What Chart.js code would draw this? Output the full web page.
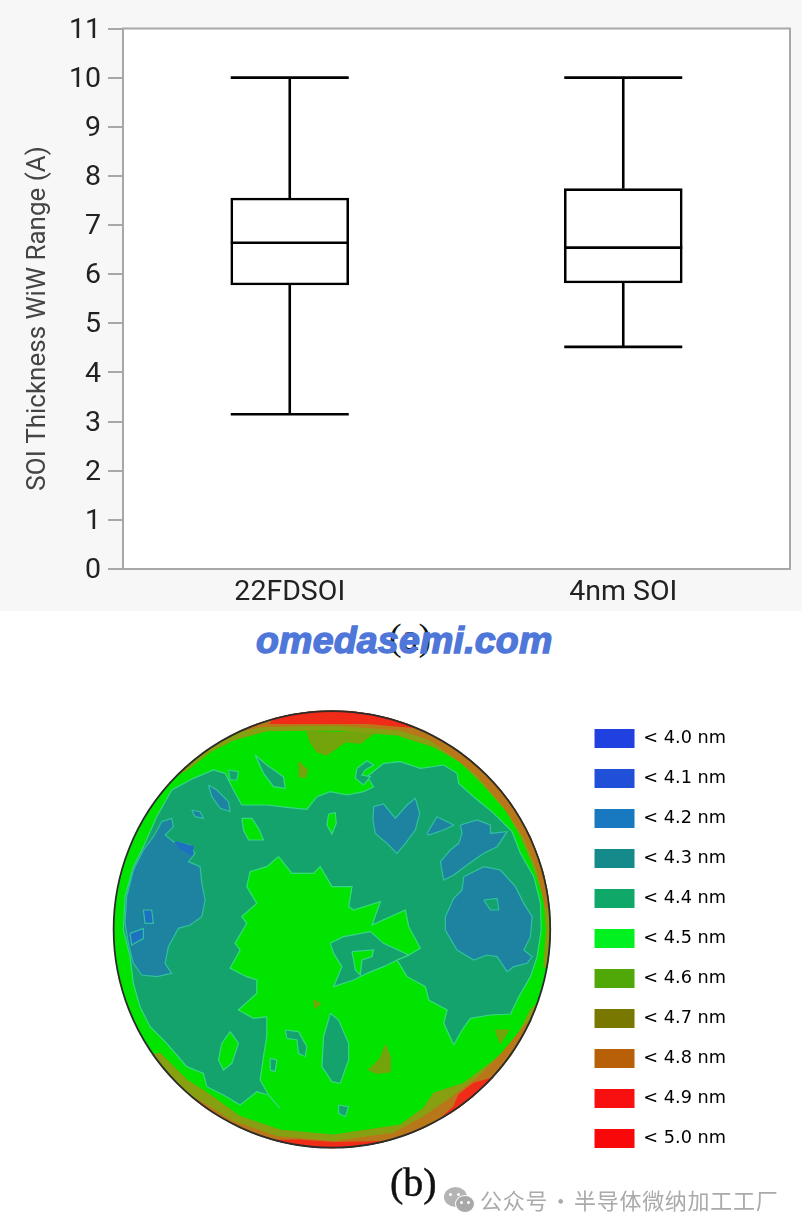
<!DOCTYPE html>
<html>
<head>
<meta charset="utf-8">
<script src="https://cdn.jsdelivr.net/npm/chart.js@4"></script>
<style>
  html, body { margin: 0; padding: 0; background: #fff; }
  #page { position: relative; width: 802px; height: 1231px; overflow: hidden; }
  #panel { position: absolute; left: 0; top: 0; width: 802px; height: 611px; background: #f7f7f7; }
  canvas { position: absolute; }
  #boxChart { left: 0; top: 0; }
  #mapChart { left: 100px; top: 708px; }
  .txt { position: absolute; line-height: 1; white-space: nowrap; }
  #capA { left: 389px; top: 618px; font: 38px/1 "Liberation Serif", serif; color: #111; }
  #site { left: 256px; top: 622px; font: italic bold 37.5px/1 "Liberation Sans", sans-serif; color: #4f76d9; -webkit-text-stroke: 1.4px #4f76d9; letter-spacing: 0.2px; }
  #capB { left: 390px; top: 1163px; font: 40px/1 "Liberation Serif", serif; color: #111; -webkit-text-stroke: 0.5px #111; }
  #mark { left: 480px; top: 1188px; font: 22px/1 "Noto Sans CJK SC", sans-serif; color: #aaa; letter-spacing: 0.7px; word-spacing: -4px; }
  .bub { position: absolute; background: #b4b4b4; border-radius: 50%; }
  .bub.front { background: #a8a8a8; border: 1px solid #fff; }
  .eye { position: absolute; width: 3px; height: 3px; border-radius: 50%; background: #fff; }
</style>
</head>
<body>
<div id="page">
  <div id="panel"></div>
  <canvas id="boxChart" width="802" height="611"></canvas>
  <canvas id="mapChart" width="636" height="480"></canvas>
  <div class="txt" id="capA">(a)</div>
  <div class="txt" id="site">omedasemi.com</div>
  <div class="txt" id="capB">(b)</div>
  <div class="bub" style="left:444px;top:1187px;width:23px;height:20px"></div>
  <div class="bub front" style="left:455px;top:1195px;width:18px;height:16px"></div>
  <div class="eye" style="left:449px;top:1193px"></div>
  <div class="eye" style="left:457px;top:1193px"></div>
  <div class="eye" style="left:460px;top:1201px"></div>
  <div class="eye" style="left:467px;top:1201px"></div>
  <div class="txt" id="mark">公众号 · 半导体微纳加工工厂</div>
</div>
<script>
// (a) box plot values
const categories = ['22FDSOI', '4nm SOI'];
const whiskerHigh = [10, 10];
const q3 = [7.55, 7.74];
const medians = [6.64, 6.54];
const q1 = [5.78, 5.82];
const whiskerLow = [3.15, 4.52];
const yTicks = [0, 1, 2, 3, 4, 5, 6, 7, 8, 9, 10, 11];

// (b) legend
const levelLabels = ['< 4.0 nm', '< 4.1 nm', '< 4.2 nm', '< 4.3 nm', '< 4.4 nm', '< 4.5 nm',
  '< 4.6 nm', '< 4.7 nm', '< 4.8 nm', '< 4.9 nm', '< 5.0 nm'];
const levelColors = ['#2040e0', '#2050d8', '#1878c0', '#158a8a', '#10a868', '#00f020',
  '#50a808', '#787800', '#b86008', '#f81010', '#f80808'];

// (b) contour outlines, in map grid units
const waferCentre = [[695, 718]];
const mainTeal = [[215,300],[280,265],[340,240],[375,250],[400,300],[425,345],[500,345],[560,352],[620,358],[650,320],[690,305],[740,315],[790,305],[820,290],[800,260],[850,220],[900,215],[960,235],[1030,225],[1070,250],[1075,280],[1125,325],[1180,370],[1235,425],[1260,490],[1300,560],[1320,640],[1322,720],[1310,800],[1290,860],[1255,920],[1230,972],[1170,975],[1110,985],[1085,1020],[1060,1065],[1000,1100],[800,1200],[540,1255],[505,1215],[470,1205],[420,1245],[370,1215],[320,1190],[310,1150],[260,1130],[200,1060],[150,1010],[120,950],[100,880],[90,800],[70,720],[75,620],[100,530],[130,470],[170,380]];
const centreGreen = [[535,500],[575,550],[640,550],[660,530],[695,590],[755,590],[745,650],[760,660],[840,635],[815,705],[915,660],[925,710],[960,775],[925,795],[890,810],[920,860],[975,890],[985,930],[1040,960],[1030,1000],[1060,1065],[1040,1120],[800,1300],[560,1290],[540,1255],[505,1215],[480,1170],[490,1100],[500,1040],[500,980],[460,985],[415,960],[470,910],[470,870],[440,860],[390,835],[420,780],[405,760],[440,700],[425,680],[470,640],[440,590],[450,545],[500,530]];
const tealCentre = [[690,760],[730,740],[810,725],[850,760],[925,795],[890,810],[850,830],[800,850],[760,870],[700,890],[725,830],[700,790]];
const tealSliver = [[465,195],[500,225],[550,260],[555,295],[520,290],[490,250]];
const tealSpeck = [[385,240],[415,245],[410,270],[390,270]];
const tealHook = [[770,235],[800,212],[820,225],[795,240],[785,255],[810,260],[790,285],[765,265]];
const tealLong = [[690,970],[715,990],[745,1060],[745,1110],[720,1180],[695,1175],[665,1130],[670,1040]];
const tealArc = [[555,1020],[595,1025],[620,1070],[615,1100],[595,1090],[590,1050],[560,1045]];
const tealDrop = [[510,1105],[530,1110],[525,1145],[510,1140]];
const tealBottom = [[715,1245],[745,1250],[735,1280],[715,1270]];
const greenUpper = [[425,385],[455,385],[475,415],[490,450],[445,450],[430,420]];
const greenSmall = [[685,372],[705,368],[708,400],[695,432],[680,405]];
const greenInner = [[755,785],[820,780],[815,800],[785,810],[780,855],[765,840],[760,810]];
const greenLower = [[390,1025],[415,1060],[395,1120],[370,1140],[355,1110],[365,1060]];
const blueLeft = [[185,395],[215,385],[220,410],[195,435],[220,455],[270,465],[285,490],[265,515],[300,530],[305,580],[315,630],[305,680],[270,705],[235,715],[205,770],[195,820],[215,850],[170,860],[125,855],[100,820],[85,760],[75,700],[80,620],[100,540],[130,480],[160,440]];
const blueHeart = [[820,350],[850,342],[885,385],[920,345],[945,325],[958,370],[945,420],[915,460],[890,490],[860,460],[825,430],[818,390]];
const blueWedge = [[980,430],[1010,380],[1060,405],[1030,420],[985,435]];
const blueLake = [[1080,405],[1130,390],[1170,405],[1170,430],[1220,425],[1190,470],[1150,490],[1100,525],[1060,555],[1030,570],[1020,515],[1050,480],[1075,460],[1085,430]];
const blueRight = [[1090,560],[1150,530],[1200,540],[1245,590],[1270,640],[1295,680],[1290,740],[1270,780],[1295,800],[1280,820],[1240,830],[1220,845],[1190,800],[1160,795],[1120,810],[1070,780],[1035,720],[1035,680],[1060,625],[1085,600]];
const blueSliver = [[325,285],[350,300],[385,335],[390,365],[360,355],[335,320]];
const blueFleck = [[275,360],[300,365],[310,385],[285,380]];
const tealIsle = [[1150,630],[1190,625],[1195,660],[1170,660]];
const deepLeftA = [[130,660],[155,660],[160,700],[135,700]];
const deepLeftB = [[90,730],[130,715],[130,745],[95,765]];
const deepLeftC = [[225,455],[280,470],[275,495],[240,475]];
const oliveNotch = [[620,125],[820,130],[780,160],[735,155],[680,195],[650,185],[630,155]];
const oliveSpot = [[597,215],[610,230],[622,240],[615,262],[597,260]];
const oliveLower = [[855,1065],[870,1100],[870,1145],[830,1150],[805,1140],[840,1105]];
const oliveTiny = [[640,930],[660,940],[645,955]];
const oliveCorner = [[1185,1020],[1225,1020],[1200,1060]];
const rimTopOlive = [[232,255],[274,216],[319,181],[368,151],[418,124],[471,102],[525,85],[581,73],[638,65],[695,63],[752,65],[809,73],[865,85],[919,102],[972,124],[1022,151],[1071,181],[1116,216],[1158,255],[1197,297],[1232,342],[1262,391],[1289,441],[1310,494],[1328,548],[1340,604],[1347,661],[1350,718],[1347,775],[1340,832],[1330,830],[1338,720],[1330,620],[1300,530],[1262,440],[1220,365],[1150,285],[1080,215],[1000,170],[890,135],[700,120],[500,122],[400,150],[330,185],[260,240]];
const rimTopOrange = [[418,124],[471,102],[525,85],[581,73],[638,65],[695,63],[752,65],[809,73],[865,85],[919,102],[972,124],[1022,151],[1071,181],[1116,216],[1158,255],[1197,297],[1232,342],[1262,391],[1289,441],[1310,494],[1328,548],[1340,604],[1347,661],[1335,650],[1310,540],[1270,440],[1210,350],[1130,255],[1060,200],[990,150],[900,120],[700,105],[480,110]];
const rimTopRed = [[525,85],[581,73],[638,65],[695,63],[752,65],[809,73],[865,85],[919,102],[940,112],[800,100],[620,100],[510,100]];
const rimLowOlive = [[158,1094],[193,1139],[232,1181],[274,1220],[319,1255],[368,1285],[418,1312],[471,1334],[525,1351],[581,1363],[638,1371],[695,1373],[752,1371],[809,1363],[865,1351],[919,1334],[972,1312],[1022,1285],[1071,1255],[1116,1220],[1158,1181],[1197,1139],[1232,1094],[1262,1045],[1289,995],[1310,942],[1290,960],[1240,1060],[1170,1120],[1090,1180],[1000,1210],[970,1255],[900,1305],[700,1335],[540,1320],[420,1280],[330,1215],[260,1170],[180,1090]];
const rimLowOrange = [[274,1220],[319,1255],[368,1285],[418,1312],[471,1334],[525,1351],[581,1363],[638,1371],[695,1373],[752,1371],[809,1363],[865,1351],[919,1334],[972,1312],[1022,1285],[1071,1255],[1116,1220],[1158,1181],[1197,1139],[1232,1094],[1262,1045],[1289,995],[1275,1005],[1200,1095],[1130,1165],[1050,1225],[970,1280],[880,1330],[700,1355],[530,1340],[400,1295],[310,1240]];
const rimLowRedA = [[1022,1285],[1071,1255],[1116,1220],[1158,1181],[1175,1165],[1120,1180],[1075,1215],[1060,1250]];
const rimLowRedB = [[525,1351],[581,1363],[638,1371],[695,1373],[752,1371],[809,1363],[850,1355],[700,1358],[600,1350]];

const TEAL = '#14a36c', GREEN = '#00e400', BLUE = '#1e83a0', DEEP = '#1e70c0',
  LEAF = '#74a40c', OLIVE = '#86a012', ORANGE = '#b8781a', RED = '#f02c18',
  EDGE = '#34d884', EDGE_BLUE = '#30c0a0';

// painted first to last
const mapLayers = [
  [mainTeal, TEAL, EDGE], [centreGreen, GREEN, GREEN], [tealCentre, TEAL, EDGE],
  [tealSliver, TEAL, EDGE], [tealSpeck, TEAL, EDGE], [tealHook, TEAL, EDGE], [tealLong, TEAL, EDGE],
  [tealArc, TEAL, EDGE], [tealDrop, TEAL, EDGE], [tealBottom, TEAL, EDGE],
  [greenUpper, GREEN, EDGE], [greenSmall, GREEN, EDGE], [greenInner, GREEN, EDGE], [greenLower, GREEN, EDGE],
  [blueLeft, BLUE, EDGE_BLUE], [blueHeart, BLUE, EDGE_BLUE], [blueWedge, BLUE, EDGE_BLUE], [blueLake, BLUE, EDGE_BLUE],
  [blueRight, BLUE, EDGE_BLUE], [blueSliver, BLUE, EDGE_BLUE], [blueFleck, BLUE, EDGE_BLUE],
  [tealIsle, TEAL, EDGE_BLUE], [deepLeftA, DEEP, EDGE_BLUE], [deepLeftB, DEEP, EDGE_BLUE], [deepLeftC, DEEP, DEEP],
  [oliveNotch, LEAF, LEAF], [oliveSpot, LEAF, LEAF], [oliveLower, LEAF, LEAF], [oliveTiny, LEAF, LEAF], [oliveCorner, LEAF, LEAF],
  [rimTopOlive, OLIVE, OLIVE], [rimTopOrange, ORANGE, ORANGE], [rimTopRed, RED, RED],
  [rimLowOlive, OLIVE, OLIVE], [rimLowOrange, ORANGE, ORANGE], [rimLowRedA, RED, RED], [rimLowRedB, RED, RED]
];

const FRAME = '#a8a8a8';

const boxParts = {
  id: 'boxParts',
  beforeDraw(chart) {
    const { ctx, chartArea: a } = chart;
    ctx.save();
    ctx.fillStyle = '#fff';
    ctx.fillRect(a.left, a.top, a.width, a.height);
    ctx.restore();
  },
  afterDatasetsDraw(chart) {
    const { ctx, chartArea: a, scales: { x, y } } = chart;
    const half = 59;
    ctx.save();
    ctx.strokeStyle = '#000';
    ctx.lineWidth = 2.6;
    const seg = (x1, y1, x2, y2) => {
      ctx.beginPath();
      ctx.moveTo(x1, y1);
      ctx.lineTo(x2, y2);
      ctx.stroke();
    };
    categories.forEach((c, i) => {
      const px = x.getPixelForValue(i);
      seg(px, y.getPixelForValue(q3[i]), px, y.getPixelForValue(whiskerHigh[i]));
      seg(px, y.getPixelForValue(q1[i]), px, y.getPixelForValue(whiskerLow[i]));
      seg(px - half, y.getPixelForValue(whiskerHigh[i]), px + half, y.getPixelForValue(whiskerHigh[i]));
      seg(px - half, y.getPixelForValue(whiskerLow[i]), px + half, y.getPixelForValue(whiskerLow[i]));
      seg(px - half, y.getPixelForValue(medians[i]), px + half, y.getPixelForValue(medians[i]));
    });
    ctx.strokeStyle = FRAME;
    ctx.lineWidth = 2;
    ctx.strokeRect(a.left, a.top, a.width, a.height);
    // y title sits lower than the plot centre
    ctx.translate(38, 318.5);
    ctx.rotate(-Math.PI / 2);
    ctx.font = '26px Roboto';
    ctx.fillStyle = '#444';
    ctx.textAlign = 'center';
    ctx.textBaseline = 'middle';
    ctx.fillText('SOI Thickness WiW Range (A)', 0, 0);
    ctx.restore();
  }
};

new Chart(document.getElementById('boxChart'), {
  type: 'bar',
  plugins: [boxParts],
  data: {
    labels: categories,
    datasets: [{
      data: categories.map((c, i) => [q1[i], q3[i]]),
      backgroundColor: '#fff',
      borderColor: '#000',
      borderWidth: 2.6,
      borderSkipped: false,
      barThickness: 118
    }]
  },
  options: {
    responsive: false,
    animation: false,
    events: [],
    layout: { padding: { top: 28.5, right: 12 } },
    plugins: { legend: { display: false }, tooltip: { enabled: false } },
    scales: {
      x: {
        afterFit: (s) => { s.height = 42; },
        grid: { display: false },
        border: { color: FRAME, width: 2 },
        ticks: { color: '#222', padding: -1, font: { family: 'Roboto', size: 28.5 } }
      },
      y: {
        min: 0,
        max: 11,
        afterFit: (s) => { s.width = 123; },
        afterBuildTicks: (s) => { s.ticks = yTicks.map((v) => ({ value: v })); },
        grid: { drawOnChartArea: false, tickLength: 15, color: FRAME, lineWidth: 2 },
        border: { color: FRAME, width: 2 },
        ticks: { color: '#222', padding: 7, labelOffset: 2, font: { family: 'Roboto', size: 28.5 } }
      }
    }
  }
});

function toPoints(poly) {
  return poly.map(([x, y]) => ({ x, y }));
}

const waferRadius = 218.3;
const mapDatasets = [
  { data: toPoints(waferCentre), showLine: false, pointRadius: waferRadius, pointBackgroundColor: GREEN, pointBorderWidth: 0 }
];
mapLayers.forEach(([poly, fillColor, edge]) => {
  mapDatasets.push({
    data: toPoints(poly.concat([poly[0]])),
    showLine: true,
    fill: 'shape',
    backgroundColor: fillColor,
    borderColor: edge,
    borderWidth: 1.2,
    pointRadius: 0
  });
  // the bottom of the centre blob only closes the shape, so its contour is a separate line with a gap
  if (poly === centreGreen) {
    mapDatasets.push({
      data: toPoints(poly.concat([poly[0]])),
      showLine: true,
      fill: false,
      borderColor: EDGE,
      borderWidth: 1.2,
      pointRadius: 0,
      segment: { borderColor: (c) => (c.p0DataIndex >= 20 && c.p0DataIndex < 24 ? 'transparent' : undefined) }
    });
  }
});
mapDatasets.push({
  data: toPoints(waferCentre), showLine: false, pointRadius: waferRadius,
  pointBackgroundColor: 'transparent', pointBorderColor: '#2c2c2c', pointBorderWidth: 1.8
});
mapDatasets.forEach((d, i) => { d.order = mapDatasets.length - i; });

new Chart(document.getElementById('mapChart'), {
  type: 'scatter',
  data: { datasets: mapDatasets },
  options: {
    responsive: false,
    animation: false,
    events: [],
    layout: { padding: 0, autoPadding: false },
    plugins: {
      tooltip: { enabled: false },
      legend: {
        position: 'right',
        align: 'start',
        onClick: null,
        labels: {
          boxWidth: 40,
          boxHeight: 19,
          padding: 21,
          color: '#333',
          font: { family: 'DejaVu Sans', size: 17.7 },
          generateLabels: () => levelLabels.map((t, i) => ({
            text: t, fillStyle: levelColors[i], strokeStyle: levelColors[i], lineWidth: 0, hidden: false, index: i
          }))
        }
      }
    },
    scales: {
      x: { display: false, min: 0, max: 1419 },
      y: { display: false, min: 54, max: 1494, reverse: true }
    }
  }
});
</script>
</body>
</html>
